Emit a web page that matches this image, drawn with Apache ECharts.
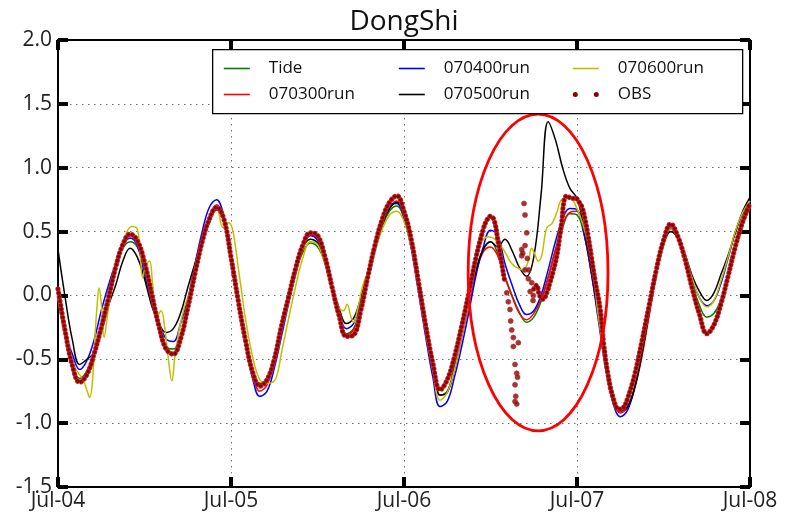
<!DOCTYPE html>
<html>
<head>
<meta charset="utf-8">
<script src="https://cdn.jsdelivr.net/npm/echarts@6/dist/echarts.min.js"></script>
<style>
  html, body { margin: 0; padding: 0; background: #fff; }
  #chart { width: 786px; height: 515px; }
</style>
</head>
<body>
<div id="chart"></div>
<script>
// ---- tick labels (x axis, one per day, hours since Jul-04 00:00) ----
const dayLabels = ['Jul-04', 'Jul-05', 'Jul-06', 'Jul-07', 'Jul-08'];
const hours = Array.from({ length: 97 }, (_, i) => i);

// ---- hourly water level (m) ----
const tide = [-0.02,-0.33,-0.56,-0.65,-0.59,-0.45,-0.24,0.00,0.22,0.37,0.42,0.38,0.22,-0.02,-0.25,-0.40,-0.42,-0.31,-0.09,0.17,
  0.43,0.61,0.69,0.60,0.30,-0.03,-0.34,-0.59,-0.71,-0.66,-0.50,-0.27,-0.03,0.19,0.34,0.41,0.38,0.26,0.05,-0.16,
  -0.30,-0.26,-0.10,0.13,0.36,0.54,0.66,0.70,0.61,0.42,0.11,-0.22,-0.55,-0.78,-0.75,-0.57,-0.31,-0.06,0.20,0.36,
  0.42,0.33,0.15,0.00,-0.13,-0.21,-0.17,-0.05,0.14,0.35,0.53,0.64,0.63,0.47,0.18,-0.17,-0.52,-0.78,-0.91,-0.87,
  -0.72,-0.46,-0.14,0.17,0.40,0.50,0.45,0.30,0.09,-0.08,-0.17,-0.14,-0.03,0.14,0.36,0.55,0.69];

const run0703 = [0.00,-0.31,-0.56,-0.67,-0.61,-0.46,-0.25,-0.01,0.22,0.39,0.47,0.41,0.24,-0.01,-0.25,-0.42,-0.45,-0.33,-0.09,0.18,
  0.43,0.62,0.71,0.61,0.31,-0.03,-0.35,-0.61,-0.75,-0.70,-0.52,-0.28,-0.03,0.21,0.39,0.47,0.44,0.29,0.06,-0.17,
  -0.31,-0.27,-0.10,0.13,0.37,0.56,0.69,0.74,0.64,0.44,0.12,-0.21,-0.54,-0.78,-0.76,-0.58,-0.33,-0.07,0.18,0.34,
  0.38,0.31,0.14,-0.01,-0.14,-0.19,-0.14,-0.03,0.14,0.36,0.55,0.65,0.66,0.48,0.17,-0.18,-0.53,-0.79,-0.92,-0.88,
  -0.73,-0.48,-0.16,0.16,0.41,0.53,0.46,0.27,0.04,-0.16,-0.29,-0.24,-0.08,0.13,0.36,0.55,0.69];

const run0704 = [-0.03,-0.30,-0.46,-0.58,-0.51,-0.35,-0.12,0.08,0.25,0.39,0.45,0.39,0.17,-0.04,-0.21,-0.34,-0.36,-0.22,-0.03,0.24,
  0.50,0.69,0.75,0.62,0.30,-0.06,-0.38,-0.65,-0.79,-0.75,-0.57,-0.32,-0.06,0.18,0.38,0.47,0.43,0.26,0.04,-0.15,
  -0.26,-0.22,-0.06,0.17,0.41,0.60,0.71,0.72,0.60,0.37,0.03,-0.32,-0.64,-0.87,-0.83,-0.64,-0.40,-0.13,0.16,0.38,
  0.51,0.47,0.25,0.08,-0.07,-0.15,-0.12,0.00,0.20,0.42,0.60,0.68,0.67,0.48,0.17,-0.21,-0.58,-0.84,-0.95,-0.90,
  -0.72,-0.44,-0.12,0.19,0.42,0.52,0.45,0.30,0.12,-0.02,-0.08,-0.04,0.10,0.30,0.50,0.64,0.72];

const run0705 = [0.36,-0.02,-0.35,-0.54,-0.50,-0.45,-0.29,-0.08,0.08,0.27,0.37,0.30,0.13,-0.08,-0.22,-0.29,-0.26,-0.14,0.06,0.25,
  0.42,0.57,0.67,0.59,0.31,-0.01,-0.32,-0.57,-0.69,-0.65,-0.48,-0.25,0.00,0.22,0.38,0.44,0.41,0.28,0.08,-0.10,
  -0.22,-0.18,-0.02,0.18,0.38,0.56,0.68,0.73,0.64,0.44,0.13,-0.20,-0.52,-0.78,-0.76,-0.56,-0.28,-0.03,0.20,0.36,
  0.42,0.38,0.44,0.35,0.22,0.15,0.30,0.78,1.36,1.22,1.00,0.84,0.76,0.52,0.20,-0.16,-0.50,-0.76,-0.90,-0.87,
  -0.72,-0.46,-0.14,0.16,0.40,0.50,0.45,0.32,0.15,0.03,-0.04,0.02,0.17,0.32,0.50,0.66,0.77];

// 070600run has short wiggles, so it is read at irregular times [hour, value]
const run0706 = [[0,-0.02],[1,-0.33],[2,-0.52],[2.5,-0.58],[3,-0.62],[3.5,-0.66],[4,-0.74],[4.4,-0.80],[4.8,-0.66],[5.1,-0.35],
  [5.4,-0.10],[5.7,0.06],[6.0,-0.06],[6.4,-0.33],[6.9,-0.14],[7.6,0.10],[8.5,0.30],[9.5,0.49],[10.2,0.54],[10.9,0.53],
  [11.3,0.40],[11.75,0.14],[12.2,0.24],[12.7,0.27],[13.1,0.11],[13.7,-0.17],[14.3,-0.12],[14.8,-0.25],[15.3,-0.49],[15.8,-0.67],
  [16.2,-0.49],[16.8,-0.27],[17.5,-0.10],[18.1,0.0],[19,0.16],[20,0.40],[21,0.60],[22,0.68],[22.9,0.53],[23.6,0.57],
  [24.1,0.54],[24.6,0.39],[25,0.22],[25.5,0.02],[26,-0.18],[27,-0.48],[28,-0.66],[29,-0.69],[30,-0.67],[30.5,-0.60],
  [31,-0.45],[32,-0.18],[33,0.08],[34,0.30],[35,0.42],[36,0.40],[37,0.25],[38,0.05],[39,-0.10],[39.6,-0.12],
  [40.1,-0.07],[40.6,-0.16],[41,-0.21],[41.6,-0.10],[42.2,0.06],[42.6,0.13],[43,0.18],[44,0.36],[45,0.52],[46,0.63],
  [47,0.66],[48,0.58],[49,0.38],[50,0.08],[51,-0.25],[52,-0.58],[53,-0.82],[54,-0.76],[55,-0.58],[56,-0.32],
  [57,-0.05],[58,0.25],[58.5,0.39],[59.7,0.46],[60.6,0.44],[61.8,0.36],[62.8,0.26],[63.6,0.22],[64.5,0.20],[65.2,0.26],
  [65.7,0.37],[66.1,0.33],[66.6,0.27],[67.1,0.31],[67.8,0.53],[68.5,0.56],[69.2,0.65],[69.9,0.75],[71.0,0.76],[72,0.68],
  [73,0.52],[74,0.28],[75,-0.18],[76,-0.53],[77,-0.77],[78,-0.90],[78.8,-0.84],[79.4,-0.76],[80,-0.66],[81,-0.40],
  [82,-0.10],[83,0.20],[84,0.42],[85,0.52],[86,0.46],[87,0.31],[88,0.13],[89,-0.02],[90,-0.09],[91,-0.04],
  [92,0.12],[93,0.31],[94,0.51],[95,0.65],[96,0.74]];

// observations [hour, value]: before the disturbance, the scattered part, and after it
const obsBefore = [[0,0.05],[1,-0.28],[2,-0.55],[3,-0.68],[4,-0.62],[5,-0.46],[6,-0.25],[7,-0.02],[8,0.22],[9,0.40],
  [10,0.48],[11,0.43],[12,0.26],[13,0.01],[14,-0.24],[15,-0.42],[16,-0.46],[17,-0.34],[18,-0.10],[19,0.17],
  [20,0.42],[21,0.60],[22,0.69],[23,0.60],[24,0.30],[25,-0.04],[26,-0.35],[27,-0.60],[28,-0.71],[29,-0.66],
  [30,-0.50],[31,-0.24],[32,-0.01],[33,0.22],[34,0.40],[35,0.49],[36,0.47],[37,0.31],[38,0.07],[39,-0.16],
  [40,-0.32],[41,-0.31],[42,-0.12],[43,0.15],[44,0.40],[45,0.60],[46,0.73],[47,0.78],[48,0.66],[49,0.44],
  [50,0.11],[51,-0.23],[52,-0.53],[53,-0.74],[54,-0.66],[55,-0.48],[56,-0.24],[57,0.02],[58,0.30],[59,0.52],
  [59.5,0.59],[60,0.62],[60.5,0.59],[61,0.44],[61.5,0.27],[62,0.10]];
const obsScatter = [[62.25,0.02],[62.47,-0.05],[62.7,-0.11],[62.8,-0.20],[62.94,-0.27],[63.17,-0.33],[63.17,-0.40],[63.4,-0.54],
  [63.64,-0.61],[63.75,-0.64],[63.4,-0.70],[63.5,-0.79],[63.4,-0.83],[63.64,-0.85],[63.86,-0.37],[64.33,0.36],[64.33,0.31],
  [64.65,0.72],[64.79,0.63],[65.03,0.49],[64.79,0.39],[64.47,0.33],[65.11,0.29],[64.79,0.20],[65.3,0.20],[65.25,0.13],
  [65.72,0.10],[65.5,0.03],[65.94,0.00],[65.9,-0.04]];
const obsAfter = [[66,0.05],[66.4,0.08],[66.8,0.0],[67.3,-0.03],[67.8,0.02],[68.3,0.11],[68.7,0.19],[69.2,0.31],[69.55,0.44],
  [69.9,0.58],[70.2,0.74],[70.6,0.78],[71.2,0.76],[71.8,0.76],[72.3,0.73],[72.7,0.69],[73.1,0.60],[73.5,0.48],[74,0.30],
  [74.5,0.12],[75.2,-0.10],[75.7,-0.38],[76.3,-0.62],[77,-0.80],[77.8,-0.89],[78.4,-0.88],[79,-0.81],[80,-0.62],[81,-0.36],
  [82,-0.08],[83,0.20],[84,0.43],[85,0.56],[86,0.46],[87,0.28],[88,0.05],[89,-0.15],[90,-0.30],[91,-0.23],
  [92,-0.06],[93,0.16],[94,0.39],[95,0.58],[96,0.72]];

// annotation ellipse in data units: [centre hour, centre value, half-width (h), half-height (m)]
const highlight = [66.6, 0.18, 9.7, 1.24];

const FONT = 'Open Sans';
const withHours = arr => arr.map((v, i) => [hours[i], v]);

const lineSeries = (name, data, color) => ({
  name, type: 'line', data, smooth: 0.4, symbol: 'none', showSymbol: false,
  lineStyle: { color, width: 1.5 }, itemStyle: { color }, z: 3
});
const obsLine = (data, color, width) => ({
  name: 'OBS', type: 'line', data, smooth: 0.4, symbol: 'none', showSymbol: false,
  lineStyle: { color, width, type: [0.1, 4], cap: 'round' }, itemStyle: { color: '#8b0000' }, z: 4
});

const tickStyle = { show: true, inside: true, length: 10, lineStyle: { color: '#000', width: 4 } };
const axisLine = { show: true, onZero: false, lineStyle: { color: '#000', width: 2 } };
const gridLine = { show: true, lineStyle: { color: '#707070', width: 1, type: [1.5, 4.5] } };

const twoDots = 'path://M0,2.5a2.5,2.5 0 1,0 5,0a2.5,2.5 0 1,0 -5,0Z M21,2.5a2.5,2.5 0 1,0 5,0a2.5,2.5 0 1,0 -5,0Z';

const legendBase = {
  orient: 'vertical', top: 60, itemWidth: 26, itemHeight: 10, itemGap: 9, padding: 0,
  selectedMode: false, z: 20,
  itemStyle: { opacity: 0 },
  lineStyle: { width: 1.6 },
  textStyle: { fontFamily: FONT, fontSize: 17, color: '#111', padding: [0, 0, 0, 14] }
};

const chart = echarts.init(document.getElementById('chart'), null, { renderer: 'canvas' });
chart.setOption({
  animation: false,
  backgroundColor: '#fff',
  title: {
    text: 'DongShi', left: 404, top: 8, textAlign: 'center', padding: 0,
    textStyle: { fontFamily: FONT, fontSize: 28, fontWeight: 'normal', color: '#111' }
  },
  grid: { left: 58, right: 36, top: 40, bottom: 28 },
  graphic: [{
    type: 'rect', left: 212, top: 49, z: 15,
    shape: { width: 530, height: 64 },
    style: { fill: '#fff', stroke: '#000', lineWidth: 1.3 }
  }],
  legend: [
    Object.assign({}, legendBase, { left: 223, data: ['Tide', '070300run'] }),
    Object.assign({}, legendBase, { left: 398, data: ['070400run', '070500run'] }),
    Object.assign({}, legendBase, { left: 572, data: ['070600run',
      { name: 'OBS', icon: twoDots, itemStyle: { color: '#8b0000', opacity: 1, borderWidth: 0 } }] })
  ],
  xAxis: [{
    type: 'value', min: 0, max: 96, interval: 24, position: 'bottom',
    axisLine, axisTick: tickStyle, splitLine: gridLine,
    axisLabel: { formatter: v => dayLabels[v / 24], fontFamily: FONT, fontSize: 21, color: '#222', margin: 4 }
  }, {
    type: 'value', min: 0, max: 96, interval: 24, position: 'top',
    axisLine, axisTick: tickStyle, splitLine: { show: false }, axisLabel: { show: false }
  }],
  yAxis: [{
    type: 'value', min: -1.5, max: 2.0, interval: 0.5, position: 'left',
    axisLine, axisTick: tickStyle, splitLine: gridLine,
    axisLabel: { formatter: v => v.toFixed(1), fontFamily: FONT, fontSize: 21, color: '#222', margin: 6 }
  }, {
    type: 'value', min: -1.5, max: 2.0, interval: 0.5, position: 'right',
    axisLine, axisTick: tickStyle, splitLine: { show: false }, axisLabel: { show: false }
  }],
  series: [
    lineSeries('Tide', withHours(tide), '#008000'),
    lineSeries('070300run', withHours(run0703), '#ff0000'),
    lineSeries('070400run', withHours(run0704), '#0000ff'),
    lineSeries('070500run', withHours(run0705), '#000000'),
    lineSeries('070600run', run0706, '#bfbf00'),
    obsLine(obsBefore, '#d42020', 5.2),
    obsLine(obsBefore, '#7a0a0a', 3.4),
    obsLine(obsAfter, '#d42020', 5.2),
    obsLine(obsAfter, '#7a0a0a', 3.4),
    {
      name: 'OBS', type: 'scatter', data: obsScatter, symbol: 'circle', symbolSize: 5, z: 4,
      itemStyle: { color: '#7a0a0a', borderColor: '#d42020', borderWidth: 0.8 }
    },
    {
      type: 'custom', silent: true, z: 6, data: [highlight],
      renderItem: (params, api) => {
        const c = api.coord([api.value(0), api.value(1)]);
        const e = api.coord([api.value(0) + api.value(2), api.value(1) + api.value(3)]);
        const rx = Math.abs(e[0] - c[0]), ry = Math.abs(e[1] - c[1]);
        return {
          type: 'path',
          shape: { pathData: `M${c[0] - rx},${c[1]} A${rx},${ry} 0 1,0 ${c[0] + rx},${c[1]} A${rx},${ry} 0 1,0 ${c[0] - rx},${c[1]} Z` },
          style: { fill: 'none', stroke: '#ff0000', lineWidth: 2.8 }
        };
      }
    }
  ]
});
</script>
</body>
</html>
